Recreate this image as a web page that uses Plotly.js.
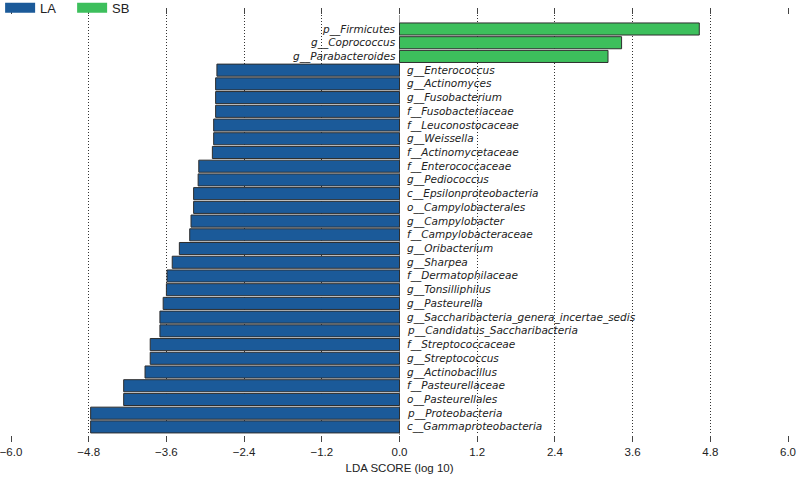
<!DOCTYPE html>
<html>
<head>
<meta charset="utf-8">
<script src="https://cdn.plot.ly/plotly-3.0.1.min.js"></script>
<style>html,body{margin:0;padding:0;background:#fff;}#chart{width:798px;height:480px;}</style>
</head>
<body>
<div id="chart"></div>
<script>
// ---- data ----
const sbNames = ['p__Firmicutes', 'g__Coprococcus', 'g__Parabacteroides'];
const sbScores = [4.63, 3.43, 3.22];

const laNames = [
  'g__Enterococcus', 'g__Actinomyces', 'g__Fusobacterium', 'f__Fusobacteriaceae',
  'f__Leuconostocaceae', 'g__Weissella', 'f__Actinomycetaceae', 'f__Enterococcaceae',
  'g__Pediococcus', 'c__Epsilonproteobacteria', 'o__Campylobacterales', 'g__Campylobacter',
  'f__Campylobacteraceae', 'g__Oribacterium', 'g__Sharpea', 'f__Dermatophilaceae',
  'g__Tonsilliphilus', 'g__Pasteurella', 'g__Saccharibacteria_genera_incertae_sedis',
  'p__Candidatus_Saccharibacteria', 'f__Streptococcaceae', 'g__Streptococcus',
  'g__Actinobacillus', 'f__Pasteurellaceae', 'o__Pasteurellales', 'p__Proteobacteria',
  'c__Gammaproteobacteria'
];
const laScores = [
  -2.82, -2.84, -2.84, -2.84,
  -2.87, -2.87, -2.89, -3.10,
  -3.11, -3.18, -3.18, -3.22,
  -3.24, -3.40, -3.51, -3.59,
  -3.60, -3.65, -3.70,
  -3.70, -3.85, -3.85,
  -3.93, -4.26, -4.26, -4.77,
  -4.77
];
const groups = ['LA', 'SB'];
const tickVals = [-6.0, -4.8, -3.6, -2.4, -1.2, 0.0, 1.2, 2.4, 3.6, 4.8, 6.0];

// ---- styles ----
const blue = '#1b5a99';
const green = '#3dbf5c';
const edge = '#2e2e2e';
const allNames = sbNames.concat(laNames);

const traces = [
  {
    type: 'bar', orientation: 'h', name: groups[1],
    x: sbScores, y: sbNames, showlegend: false,
    marker: {color: green, line: {color: edge, width: 1}}
  },
  {
    type: 'bar', orientation: 'h', name: groups[0],
    x: laScores, y: laNames, showlegend: false,
    marker: {color: blue, line: {color: edge, width: 1}}
  },
  // legend entries
  {type: 'scatter', mode: 'lines', name: groups[0], x: [null], y: [null],
   line: {color: blue, width: 12}, showlegend: true, hoverinfo: 'skip'},
  {type: 'scatter', mode: 'lines', name: groups[1], x: [null], y: [null],
   line: {color: green, width: 12}, showlegend: true, hoverinfo: 'skip'}
];

const labelFont = {family: 'DejaVu Sans', size: 10.5, color: '#222', style: 'italic'};
const annotations = [];
sbNames.forEach((n) => annotations.push({
  x: 0, y: n, xref: 'x', yref: 'y', text: n, showarrow: false,
  xanchor: 'right', yanchor: 'middle', xshift: -2, font: labelFont
}));
laNames.forEach((n) => annotations.push({
  x: 0, y: n, xref: 'x', yref: 'y', text: n, showarrow: false,
  xanchor: 'left', yanchor: 'middle', xshift: 5, font: labelFont
}));

const layout = {
  width: 798, height: 480,
  margin: {l: 11, r: 10, t: 15, b: 45, pad: 0, autoexpand: false},
  paper_bgcolor: '#fff', plot_bgcolor: '#fff',
  barmode: 'overlay', bargap: 0.12,
  font: {family: 'Liberation Sans, Arial, sans-serif', size: 12, color: '#222'},
  showlegend: true,
  legend: {
    orientation: 'h', x: -0.014, xanchor: 'left', y: 1.053, yanchor: 'top',
    font: {family: 'Liberation Sans, Arial, sans-serif', size: 13, color: '#222'},
    entrywidth: 27, entrywidthmode: 'pixels', tracegroupgap: 0, bgcolor: 'rgba(0,0,0,0)'
  },
  xaxis: {
    range: [-6, 6], tickvals: tickVals, tickformat: '.1f', ticklabeloverflow: 'allow',
    showgrid: true, gridcolor: '#333', griddash: '1px,2px', gridwidth: 1,
    zeroline: true, zerolinecolor: '#999', zerolinewidth: 1,
    showline: false, ticks: 'outside', ticklen: 6, tickcolor: '#444', mirror: 'ticks',
    tickfont: {family: 'Liberation Sans, Arial, sans-serif', size: 11.5, color: '#222'},
    title: {text: 'LDA SCORE (log 10)', standoff: 7,
            font: {family: 'Liberation Sans, Arial, sans-serif', size: 11.5, color: '#222'}}
  },
  yaxis: {
    type: 'category', categoryorder: 'array', categoryarray: allNames,
    range: [29.59, -1.02], showticklabels: false, showgrid: false,
    zeroline: false, showline: false, ticks: ''
  },
  annotations: annotations
};

Plotly.newPlot('chart', traces, layout, {displayModeBar: false, staticPlot: true});
</script>
</body>
</html>
